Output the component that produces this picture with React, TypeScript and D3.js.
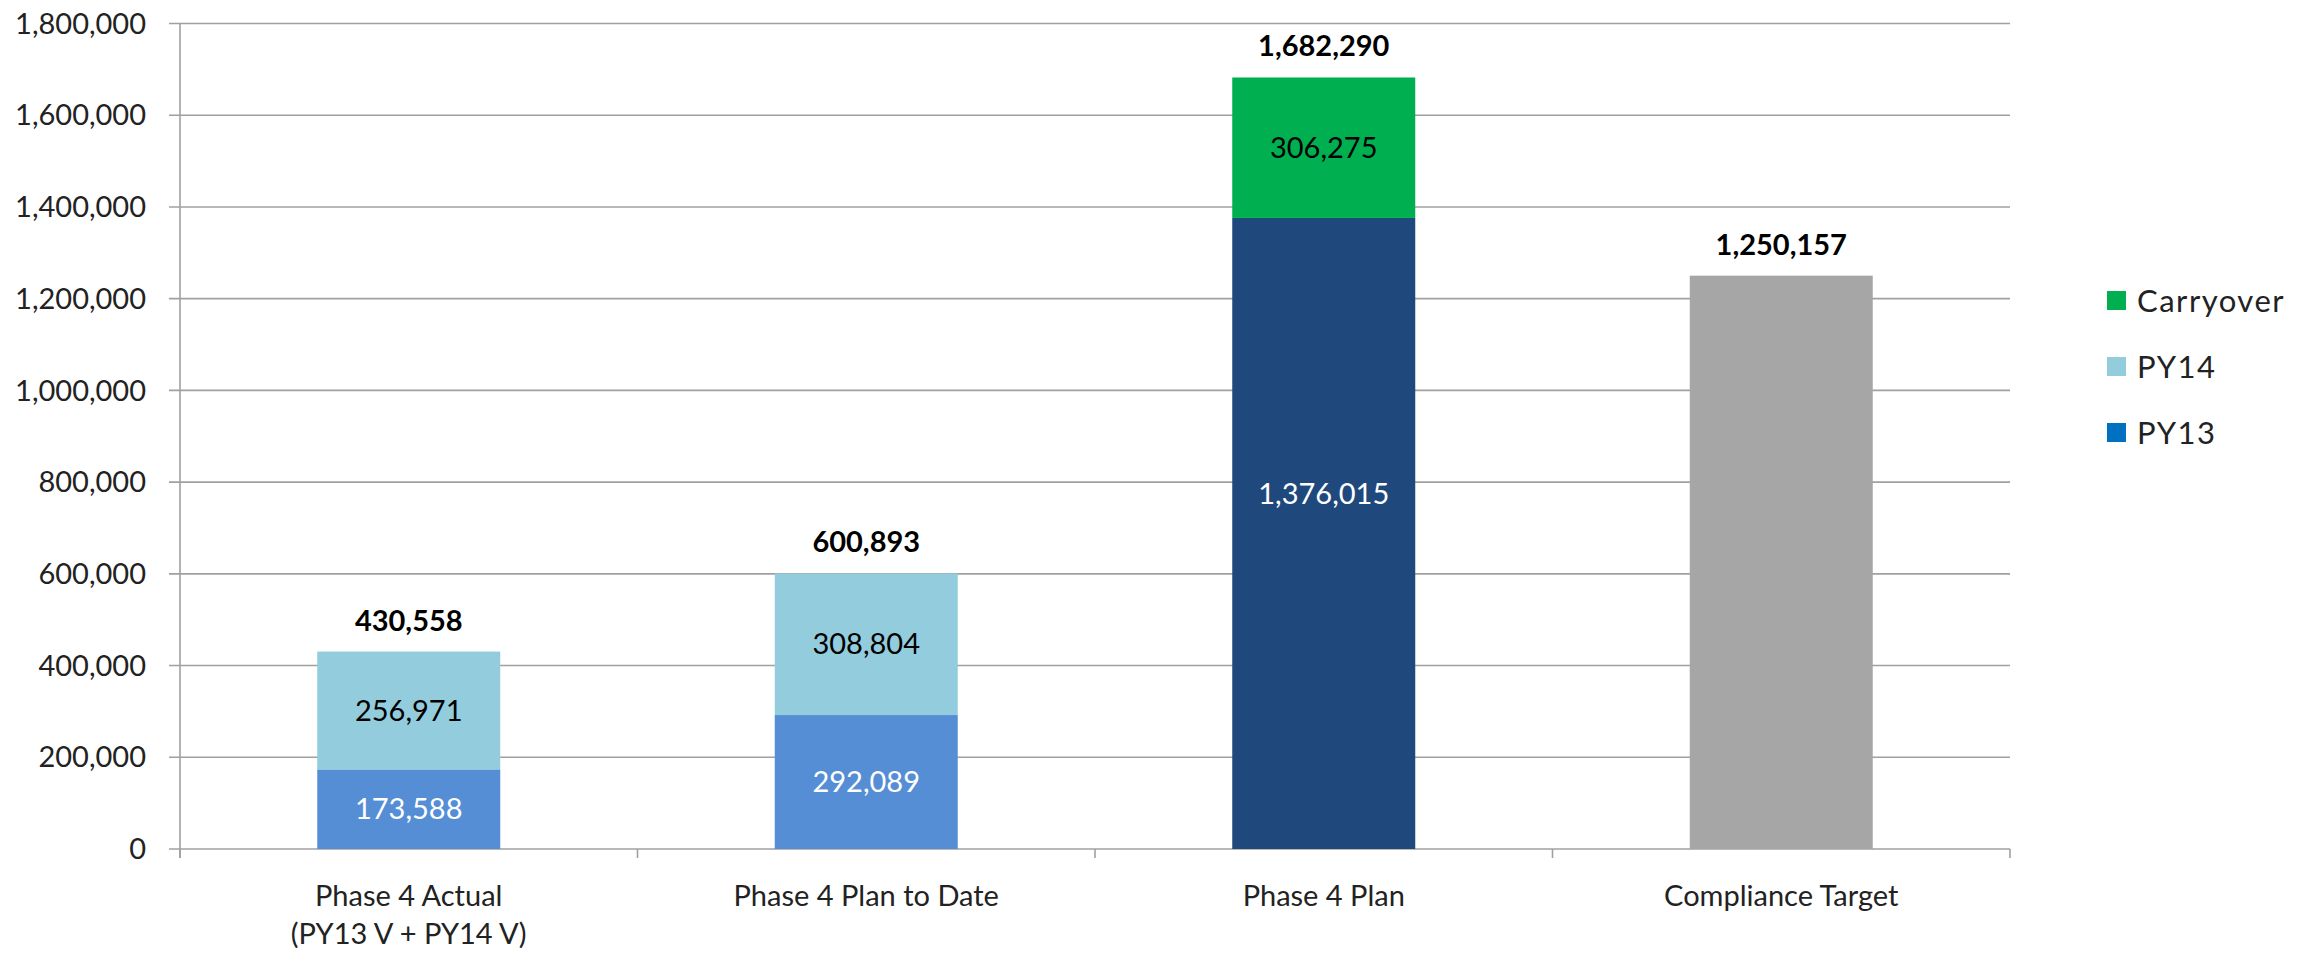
import React from "react";
import * as d3 from "d3";

const categories = ["Phase 4 Actual", "Phase 4 Plan to Date", "Phase 4 Plan", "Compliance Target"];
const categorySubLabels = ["(PY13 V + PY14 V)", "", "", ""];
const py13Values = [173588, 292089, 1376015, 0];
const py14Values = [256971, 308804, 0, 0];
const carryoverValues = [0, 0, 306275, 0];
const targetValues = [0, 0, 0, 1250157];
const totalValues = [430558, 600893, 1682290, 1250157];
const yTicks = [0, 200000, 400000, 600000, 800000, 1000000, 1200000, 1400000, 1600000, 1800000];
const legendItems = ["Carryover", "PY14", "PY13"];

const W = 2318;
const H = 955;
const left = 180;
const right = 2010;
const top = 23.5;
const bottom = 849;
const FONT = "Lato, 'Open Sans', sans-serif";
const FS = 29;

const COL_PY13_BAR = ["#558ED5", "#558ED5", "#1F497D", "#558ED5"];
const COL_PY13_LEG = "#0070C0";
const COL_PY14 = "#93CDDD";
const COL_CARRY = "#00B050";
const COL_TARGET = "#A6A6A6";
const GRID = "#A0A0A0";
const LABEL_SHIFT = [0, 0, -40, 0];

export default function App() {
  const x = d3.scaleBand<string>().domain(categories).range([left, right]).paddingInner(0.6).paddingOuter(0.3);
  const step = x.step();
  const y = d3.scaleLinear().domain([0, 1800000]).range([bottom, top]);
  const fmt = d3.format(",");
  const bw = x.bandwidth();

  const segs: { cat: string; i: number; y0: number; y1: number; color: string; text: string; label: boolean }[] = [];
  categories.forEach((c, i) => {
    let acc = 0;
    const parts = [
      { v: py13Values[i], color: COL_PY13_BAR[i], text: "#FFFFFF" },
      { v: py14Values[i], color: COL_PY14, text: "#000000" },
      { v: carryoverValues[i], color: COL_CARRY, text: "#000000" },
      { v: targetValues[i], color: COL_TARGET, text: "#000000" },
    ];
    parts.forEach((p, k) => {
      if (p.v > 0) {
        segs.push({ cat: c, i, y0: acc, y1: acc + p.v, color: p.color, text: p.text, label: k !== 3 });
        acc += p.v;
      }
    });
  });

  const boundaries = d3.range(categories.length + 1).map((i) => left + i * step);

  return (
    <svg width={W} height={H} style={{ position: "absolute", left: 0, top: 0, background: "#fff" }} fontFamily={FONT}>
      <rect x={0} y={0} width={W} height={H} fill="#fff" />
      {yTicks.map((t) => (
        <g key={t}>
          <line x1={left - 11} x2={right} y1={y(t)} y2={y(t)} stroke={GRID} strokeWidth={1.6} />
          <text x={146} y={y(t)} dy="0.35em" textAnchor="end" fontSize={FS} fill="#222">
            {fmt(t)}
          </text>
        </g>
      ))}
      <line x1={left} x2={left} y1={top} y2={bottom + 9} stroke={GRID} strokeWidth={1.6} />
      {boundaries.map((b, i) => (
        <line key={i} x1={b} x2={b} y1={bottom} y2={bottom + 9} stroke={GRID} strokeWidth={1.6} />
      ))}
      {segs.map((s, i) => (
        <rect key={i} x={x(s.cat)!} y={y(s.y1)} width={bw} height={y(s.y0) - y(s.y1)} fill={s.color} />
      ))}
      {segs.filter((s) => s.label).map((s, i) => (
        <text
          key={"l" + i}
          x={x(s.cat)! + bw / 2}
          y={(y(s.y0) + y(s.y1)) / 2 + (s.y0 === 0 ? LABEL_SHIFT[s.i] : 0)}
          dy="0.35em"
          textAnchor="middle"
          fontSize={FS}
          fill={s.text}
        >
          {fmt(s.y1 - s.y0)}
        </text>
      ))}
      {categories.map((c, i) => (
        <text key={"t" + c} x={x(c)! + bw / 2} y={y(totalValues[i]) - 21} textAnchor="middle" fontSize={FS} fontWeight="bold" fill="#000">
          {fmt(totalValues[i])}
        </text>
      ))}
      {categories.map((c, i) => (
        <g key={c}>
          <text x={x(c)! + bw / 2} y={896} dy="0.35em" textAnchor="middle" fontSize={FS} fill="#222">
            {c}
          </text>
          {categorySubLabels[i] && (
            <text x={x(c)! + bw / 2} y={934} dy="0.35em" textAnchor="middle" fontSize={FS} fill="#222">
              {categorySubLabels[i]}
            </text>
          )}
        </g>
      ))}
      {legendItems.map((l, i) => {
        const cy = 301 + i * 66;
        const col = l === "Carryover" ? COL_CARRY : l === "PY14" ? COL_PY14 : COL_PY13_LEG;
        return (
          <g key={l}>
            <rect x={2107} y={cy - 10} width={19} height={19} fill={col} />
            <text x={2137} y={cy} dy="0.35em" fontSize={31} letterSpacing={1.5} fill="#222">
              {l}
            </text>
          </g>
        );
      })}
    </svg>
  );
}
